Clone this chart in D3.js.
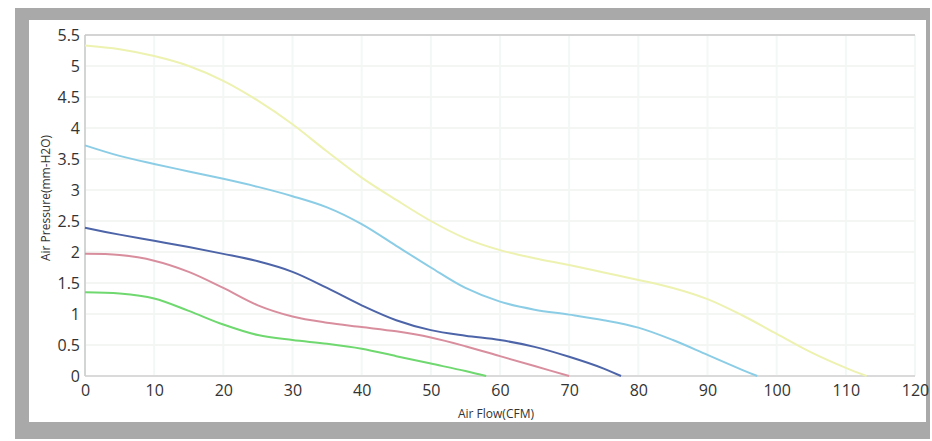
<!DOCTYPE html>
<html><head><meta charset="utf-8">
<script src="https://cdn.jsdelivr.net/npm/d3@7"></script>
<style>body{margin:0;background:#fff}svg{display:block}</style>
</head><body>
<svg id="c" width="932" height="441"></svg>
<script>
const xTicks = [0,10,20,30,40,50,60,70,80,90,100,110,120];
const yTicks = [0,0.5,1,1.5,2,2.5,3,3.5,4,4.5,5,5.5];
const xLabel = "Air Flow(CFM)";
const yLabel = "Air Pressure(mm-H2O)";

const yellowX = [0,5,10,15,20,25,30,35,40,45,50,55,60,65,70,75,80,85,90,95,100,105,110,113];
const yellowY = [5.33,5.27,5.16,5.0,4.76,4.44,4.06,3.62,3.2,2.84,2.5,2.22,2.03,1.9,1.79,1.67,1.55,1.42,1.24,0.98,0.68,0.38,0.13,0];
const lightBlueX = [0,5,10,15,20,25,30,35,40,45,50,55,60,65,70,75,80,85,90,95,97.2];
const lightBlueY = [3.72,3.55,3.42,3.3,3.18,3.05,2.9,2.72,2.45,2.1,1.75,1.42,1.2,1.07,0.99,0.9,0.78,0.58,0.34,0.1,0];
const darkBlueX = [0,5,10,15,20,25,30,35,40,45,50,55,60,65,70,75,77.5];
const darkBlueY = [2.39,2.28,2.18,2.08,1.97,1.85,1.68,1.42,1.14,0.9,0.74,0.65,0.58,0.47,0.31,0.12,0];
const pinkX = [0,5,10,15,20,25,30,35,40,45,50,55,60,65,70];
const pinkY = [1.97,1.95,1.86,1.68,1.42,1.14,0.96,0.86,0.79,0.72,0.62,0.48,0.32,0.16,0];
const greenX = [0,5,10,15,20,25,30,35,40,45,50,55,58];
const greenY = [1.35,1.33,1.25,1.05,0.83,0.66,0.58,0.52,0.44,0.32,0.2,0.08,0];

const series = [
  {x: yellowX, y: yellowY, color: "#edf2b0"},
  {x: lightBlueX, y: lightBlueY, color: "#8ccde6"},
  {x: darkBlueX, y: darkBlueY, color: "#4d65a8"},
  {x: pinkX, y: pinkY, color: "#d98e9e"},
  {x: greenX, y: greenY, color: "#6fd86f"}
];

const svg = d3.select("#c");
// frame
svg.append("rect").attr("x",15).attr("y",8).attr("width",915).attr("height",431).attr("fill","#a9a9a9");
svg.append("rect").attr("x",29).attr("y",20).attr("width",897).attr("height",402).attr("fill","#ffffff");

const x = d3.scaleLinear().domain([0,120]).range([85,915]);
const y = d3.scaleLinear().domain([0,5.5]).range([376,35]);

const g = svg.append("g");
// grid
g.selectAll(".vg").data(xTicks).join("line")
  .attr("x1",d=>x(d)).attr("x2",d=>x(d)).attr("y1",y(5.5)).attr("y2",y(0))
  .attr("stroke","#f1f8f6").attr("stroke-width",2);
g.selectAll(".hg").data(yTicks).join("line")
  .attr("x1",x(0)).attr("x2",x(120)).attr("y1",d=>y(d)).attr("y2",d=>y(d))
  .attr("stroke","#f4f6f4").attr("stroke-width",2);
// borders
g.append("line").attr("x1",x(0)).attr("x2",x(120)).attr("y1",y(5.5)).attr("y2",y(5.5)).attr("stroke","#c8c8c8").attr("stroke-width",1.5);
g.append("line").attr("x1",x(0)).attr("x2",x(0)).attr("y1",y(5.5)).attr("y2",y(0)).attr("stroke","#c8c8c8").attr("stroke-width",1.5);
g.append("line").attr("x1",x(0)).attr("x2",x(120)).attr("y1",y(0)).attr("y2",y(0)).attr("stroke","#d0d0d0").attr("stroke-width",1.5);

// curves
const line = d3.line().x(d=>x(d[0])).y(d=>y(d[1])).curve(d3.curveCatmullRom.alpha(0.5));
series.forEach(s=>{
  const pts = s.x.map((v,i)=>[v,s.y[i]]);
  g.append("path").attr("d",line(pts)).attr("fill","none").attr("stroke",s.color).attr("stroke-width",2);
});

// axes
const xAxis = d3.axisBottom(x).tickValues(xTicks).tickSize(0).tickPadding(9).tickFormat(d3.format("d"));
const xa = svg.append("g").attr("transform",`translate(0,${y(0)})`).call(xAxis);
xa.select(".domain").remove();
xa.selectAll("text").attr("font-family","'Open Sans', sans-serif").attr("font-size",16).attr("fill","#333");

const yAxis = d3.axisLeft(y).tickValues(yTicks).tickSize(0).tickPadding(5).tickFormat(d=>String(d));
const ya = svg.append("g").attr("transform",`translate(${x(0)},0)`).call(yAxis);
ya.select(".domain").remove();
ya.selectAll("text").attr("font-family","'Open Sans', sans-serif").attr("font-size",16).attr("fill","#333");

svg.append("text").attr("x",496).attr("y",418).attr("text-anchor","middle")
  .attr("font-family","'Open Sans', sans-serif").attr("font-size",12).attr("fill","#333").text(xLabel);
svg.append("text").attr("transform","translate(50,198) rotate(-90)").attr("text-anchor","middle")
  .attr("font-family","'Open Sans', sans-serif").attr("font-size",12).attr("fill","#333").text(yLabel);
</script>
</body></html>
